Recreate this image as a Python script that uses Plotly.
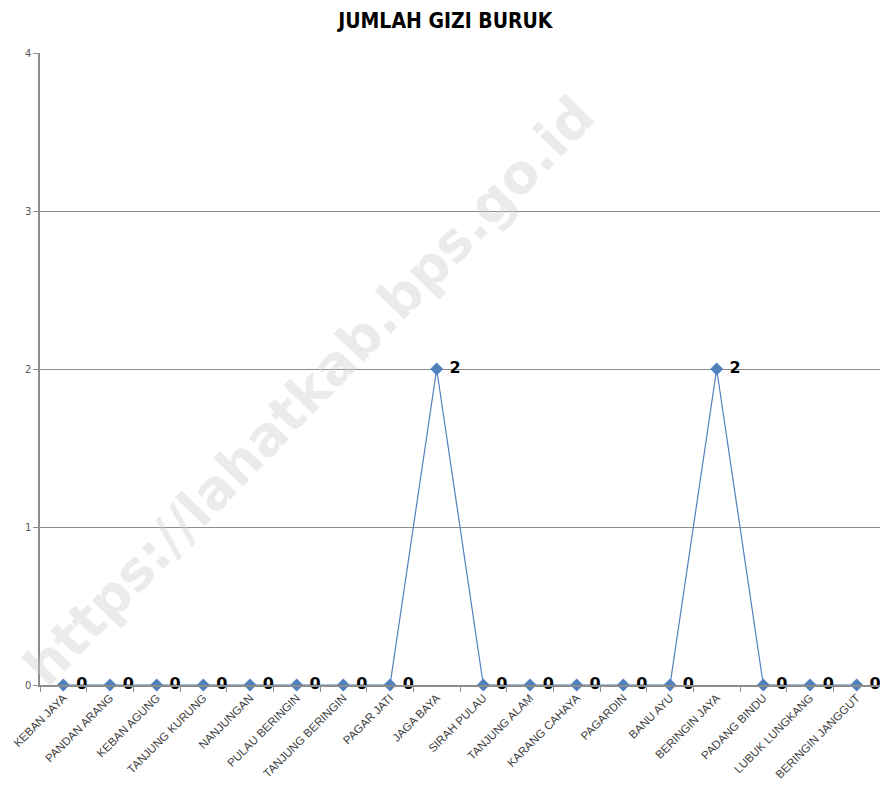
import plotly.graph_objects as go

# ── Data ─────────────────────────────────────────────────────────────
VILLAGES = [
    "KEBAN JAYA", "PANDAN ARANG", "KEBAN AGUNG", "TANJUNG KURUNG",
    "NANJUNGAN", "PULAU BERINGIN", "TANJUNG BERINGIN", "PAGAR JATI",
    "JAGA BAYA", "SIRAH PULAU", "TANJUNG ALAM", "KARANG CAHAYA",
    "PAGARDIN", "BANU AYU", "BERINGIN JAYA", "PADANG BINDU",
    "LUBUK LUNGKANG", "BERINGIN JANGGUT",
]
GIZI_BURUK = [0, 0, 0, 0, 0, 0, 0, 0, 2, 0, 0, 0, 0, 0, 2, 0, 0, 0]
Y_TICKS = [0, 1, 2, 3, 4]

LINE_COLOR = "#4F81BD"
GRID_COLOR = "#8C8C8C"

fig = go.Figure()

fig.add_trace(go.Scatter(
    x=VILLAGES, y=GIZI_BURUK,
    mode="lines+markers+text",
    line=dict(color=LINE_COLOR, width=1.2),
    marker=dict(symbol="diamond", size=10, color=LINE_COLOR),
    text=[f" {v}" for v in GIZI_BURUK],
    textposition="middle right",
    textfont=dict(family="DejaVu Sans", size=16, color="black", weight="bold"),
    cliponaxis=False,
    showlegend=False,
))

# watermark
fig.add_annotation(
    text="https://lahatkab.bps.go.id",
    xref="paper", yref="paper", x=0.32, y=0.465,
    xanchor="center", yanchor="middle",
    showarrow=False, textangle=-46,
    font=dict(family="DejaVu Sans", size=54, color="rgba(205,205,205,0.4)", weight="bold"),
)

# page body adds an 8px offset, so the figure is sized 880x792
fig.update_layout(
    width=880, height=792,
    margin=dict(l=32, r=8, t=45, b=115),
    paper_bgcolor="white", plot_bgcolor="white",
    title=dict(
        text="<b>JUMLAH GIZI BURUK</b>",
        x=0.497, xanchor="center", y=0.984, yanchor="middle",
        font=dict(family="DejaVu Sans Condensed, Liberation Sans Narrow, sans-serif", size=21, color="black"),
    ),
    xaxis=dict(
        type="category", range=[-0.5, 17.5], automargin=False,
        showgrid=False, zeroline=False,
        showline=True, linecolor=GRID_COLOR, linewidth=1.5,
        ticks="outside", tickson="boundaries", ticklen=5, tickcolor=GRID_COLOR,
        tickangle=-45,
        tickfont=dict(family="Liberation Sans, Arial", size=11.5, color="#404040"),
    ),
    yaxis=dict(
        range=[0, 4], tickvals=Y_TICKS, automargin=False,
        showgrid=True, gridcolor=GRID_COLOR, gridwidth=1,
        zeroline=False,
        showline=True, linecolor=GRID_COLOR, linewidth=1.5,
        ticks="outside", ticklen=5, tickcolor=GRID_COLOR,
        tickfont=dict(family="DejaVu Sans", size=10, color="#595959"),
    ),
)

fig.write_html("out.html")
